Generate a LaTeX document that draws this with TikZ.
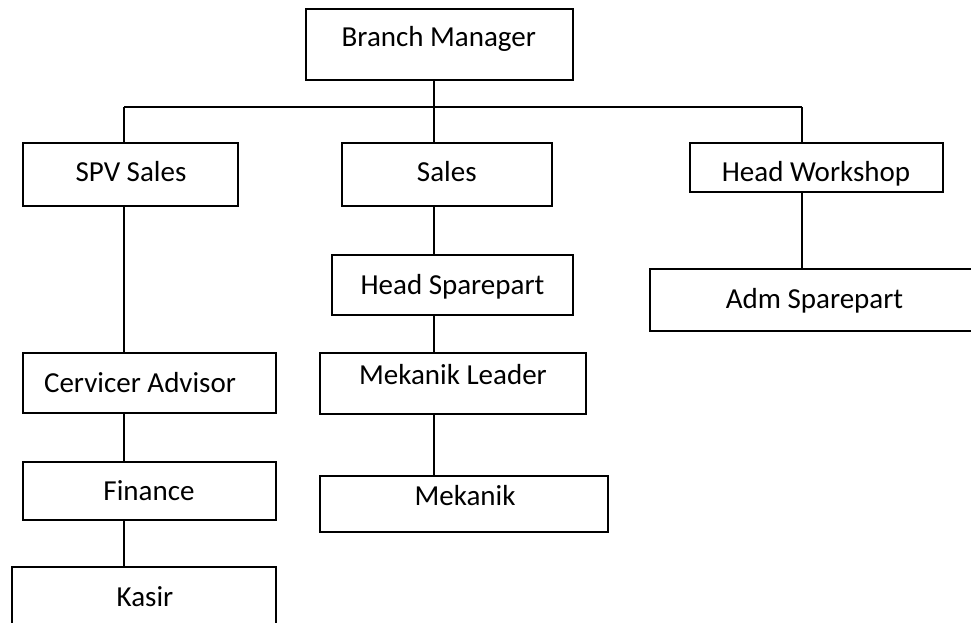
\documentclass[tikz,border=0pt]{standalone}
\usepackage{fontspec}
\setmainfont{Carlito}
\begin{document}
\begin{tikzpicture}[x=1pt,y=-1pt,
  orgbox/.style={draw=black, line width=2pt, fill=white, inner sep=0pt},
  orgtext/.style={anchor=base, inner sep=0pt, font=\fontsize{29}{35}\selectfont},
  link/.style={draw=black, line width=2pt}]
\useasboundingbox (0,0) rectangle (971,623);
\clip (0,0) rectangle (971,623);
\fill[white] (0,0) rectangle (971,623);
% boxes
\node[orgbox, minimum width=266.7pt, minimum height=70.7pt] (bm) at (439.3,44.7) {};
\node[orgbox, minimum width=215pt, minimum height=63.3pt] (spv) at (130.5,174.3) {};
\node[orgbox, minimum width=210.3pt, minimum height=63.3pt] (sales) at (446.8,174.3) {};
\node[orgbox, minimum width=252.7pt, minimum height=49pt] (hw) at (816.3,167.2) {};
\node[orgbox, minimum width=340pt, minimum height=61.4pt] (adm) at (820,300) {};
\node[orgbox, minimum width=241pt, minimum height=60pt] (hs) at (452.2,285) {};
\node[orgbox, minimum width=266pt, minimum height=60.7pt] (ml) at (453,383.7) {};
\node[orgbox, minimum width=288.3pt, minimum height=55.7pt] (mk) at (464.2,503.8) {};
\node[orgbox, minimum width=253pt, minimum height=60pt] (ca) at (149.5,383.3) {};
\node[orgbox, minimum width=253pt, minimum height=58.3pt] (fin) at (149.5,490.8) {};
\node[orgbox, minimum width=264pt, minimum height=72.7pt] (kas) at (144,603.7) {};
% texts
\node[orgtext] (bmT) at (438.8,46.7) {Branch Manager};
\node[orgtext] (spvT) at (131,181.7) {SPV Sales};
\node[orgtext] (salesT) at (446.8,181.7) {Sales};
\node[orgtext] (hwT) at (816,181.7) {Head Workshop};
\node[orgtext] (admT) at (814.5,308.3) {Adm Sparepart};
\node[orgtext] (hsT) at (452.5,294.3) {Head Sparepart};
\node[orgtext] (mlT) at (453,384) {Mekanik Leader};
\node[orgtext] (mkT) at (465,505) {Mekanik};
\node[orgtext] (caT) at (140,392.7) {Cervicer Advisor};
\node[orgtext] (finT) at (149,500) {Finance};
\node[orgtext] (kasT) at (145,606.7) {Kasir};
% bus coordinates
\coordinate (cl) at (124,107);
\coordinate (cm) at (434,107);
\coordinate (cr) at (802,107);
% connectors
\draw[link] (bm.south -| cm) -- (cm);
\draw[link] (cl) -- (cr);
\draw[link] (cl) -- (cl |- spv.north);
\draw[link] (cm) -- (cm |- sales.north);
\draw[link] (cr) -- (cr |- hw.north);
\draw[link] (spv.south -| cl) -- (ca.north -| cl);
\draw[link] (ca.south -| cl) -- (fin.north -| cl);
\draw[link] (fin.south -| cl) -- (kas.north -| cl);
\draw[link] (sales.south -| cm) -- (hs.north -| cm);
\draw[link] (hs.south -| cm) -- (ml.north -| cm);
\draw[link] (ml.south -| cm) -- (mk.north -| cm);
\draw[link] (hw.south -| cr) -- (adm.north -| cr);
\end{tikzpicture}
\end{document}
